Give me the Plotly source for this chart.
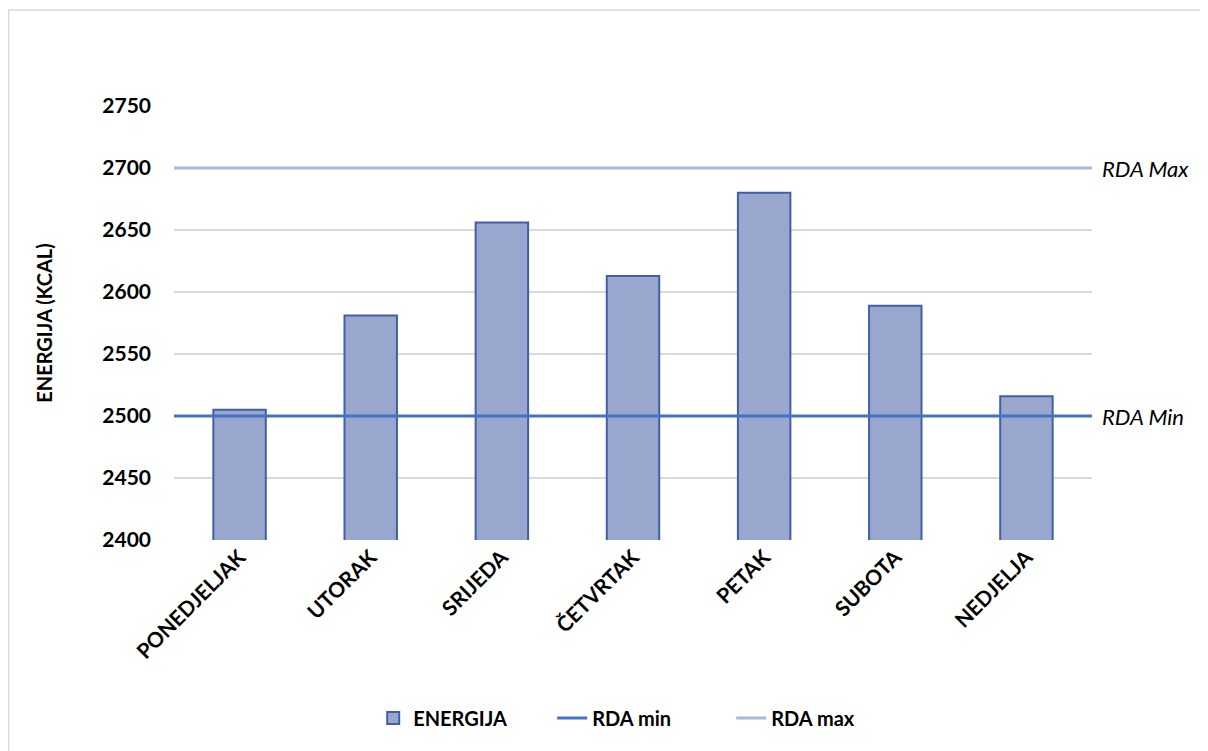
import plotly.graph_objects as go

days = ["PONEDJELJAK", "UTORAK", "SRIJEDA", "ČETVRTAK", "PETAK", "SUBOTA", "NEDJELJA"]
energija = [2505, 2581, 2656, 2613, 2680, 2589, 2516]
rda_min = 2500
rda_max = 2700
y_ticks = [2400, 2450, 2500, 2550, 2600, 2650, 2700, 2750]

FONT = "Lato"
xs = list(range(len(days)))
x_edges = [-0.5, len(days) - 0.5]

fig = go.Figure()
fig.add_trace(go.Bar(
    x=xs, y=energija, name="<b>ENERGIJA</b>", width=0.4,
    marker=dict(color="#99A7CE", line=dict(color="#3F60A8", width=2)),
))
fig.add_trace(go.Scatter(
    x=x_edges, y=[rda_min, rda_min], mode="lines", name="<b>RDA min</b>",
    line=dict(color="#4472C4", width=3),
))
fig.add_trace(go.Scatter(
    x=x_edges, y=[rda_max, rda_max], mode="lines", name="<b>RDA max</b>",
    line=dict(color="#A9B7DE", width=3),
))

fig.add_annotation(x=1.0, xref="paper", xanchor="left", xshift=8, y=rda_max, yref="y",
                   text="<i>RDA Max</i>", showarrow=False,
                   font=dict(family=FONT, size=22, color="#000000"))
fig.add_annotation(x=1.0, xref="paper", xanchor="left", xshift=8, y=rda_min, yref="y",
                   text="<i>RDA Min</i>", showarrow=False,
                   font=dict(family=FONT, size=22, color="#000000"))

fig.add_shape(type="rect", xref="paper", yref="paper",
              x0=-0.1803, x1=1.2, y0=-0.6, y1=1.2212,
              line=dict(color="#D9D9D9", width=1.5), layer="below")

fig.update_layout(
    width=1200, height=743,
    paper_bgcolor="white", plot_bgcolor="white",
    margin=dict(l=166, r=116, t=98, b=211, autoexpand=False),
    font=dict(family=FONT, size=15, color="#000000"),
    bargap=0.6,
    showlegend=True,
    legend=dict(orientation="h", x=0.217, xanchor="left", y=-0.41, yanchor="middle",
                font=dict(family=FONT, size=20, color="#000000"),
                entrywidth=134, entrywidthmode="pixels",
                traceorder="normal"),
    xaxis=dict(
        tickmode="array", tickvals=xs, ticktext=[f"<b>{d}</b>" for d in days],
        tickangle=-45, range=x_edges, showgrid=False, zeroline=False,
        showline=False, ticks="", tickfont=dict(family=FONT, size=21),
        automargin=False,
    ),
    yaxis=dict(
        range=[2400, 2750], tickvals=y_ticks, ticktext=[f"<b>{v}</b>" for v in y_ticks],
        showgrid=True, gridcolor="#D9D9D9", gridwidth=1.5, zeroline=False,
        showline=False, ticks="", ticklabelstandoff=22,
        tickfont=dict(family=FONT, size=21), automargin=False,
        title=dict(text="<b>ENERGIJA (KCAL)</b>", font=dict(family=FONT, size=20), standoff=44),
    ),
)

fig.write_html("out.html")
